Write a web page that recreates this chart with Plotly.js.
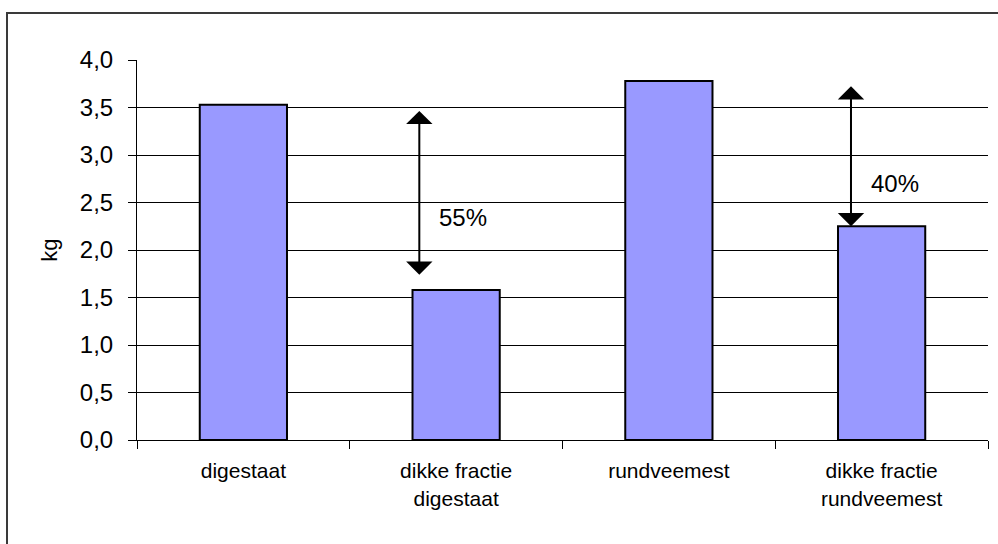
<!DOCTYPE html>
<html>
<head>
<meta charset="utf-8">
<script src="https://cdn.plot.ly/plotly-3.0.1.min.js"></script>
<style>html,body{margin:0;padding:0;background:#fff;}#chart{width:998px;height:544px;}</style>
</head>
<body>
<div id="chart"></div>
<script>
const categories = ["digestaat", "dikke fractie<br>digestaat", "rundveemest", "dikke fractie<br>rundveemest"];
const values = [3.53, 1.58, 3.78, 2.25];
const yTickVals = [0, 0.5, 1, 1.5, 2, 2.5, 3, 3.5, 4];
const reductionLabels = ["55%", "40%"];

const FONT = "Liberation Sans, Arial, sans-serif";

const trace = {
  type: "bar",
  x: categories,
  y: values,
  marker: {color: "#9999FF", line: {color: "#000000", width: 2}},
  width: 0.41,
  hoverinfo: "x+y"
};

const W = 851, H = 380, L = 137, T = 60;
function px(xp){ return (xp - L) / W; }
function py(yp){ return (T + H - yp) / H; }

const layout = {
  width: 998, height: 544,
  margin: {l: 137, r: 10, t: 60, b: 104},
  paper_bgcolor: "#ffffff",
  plot_bgcolor: "#ffffff",
  showlegend: false,
  font: {family: FONT, color: "#000000"},
  xaxis: {
    type: "category",
    showline: true, linecolor: "#000000", linewidth: 1,
    ticks: "outside", tickson: "boundaries", ticklen: 8, tickcolor: "#000000", tickwidth: 1,
    ticklabelstandoff: 12,
    tickfont: {family: FONT, size: 21, color: "#000000"},
    showgrid: false, zeroline: false,
    range: [-0.5, 3.5], fixedrange: true
  },
  yaxis: {
    range: [0, 4],
    tickvals: yTickVals,
    tickformat: ".1f",
    showline: true, linecolor: "#000000", linewidth: 1,
    ticks: "outside", ticklen: 8, tickcolor: "#000000", tickwidth: 1,
    ticklabelstandoff: 10,
    tickfont: {family: FONT, size: 24, color: "#000000"},
    showgrid: true, gridcolor: "#000000", gridwidth: 1,
    zeroline: false,
    title: {text: "kg", font: {family: FONT, size: 22, color: "#000000"}, standoff: 16},
    fixedrange: true
  },
  separators: ",.",
  bargap: 0.59,
  shapes: [
    {type: "rect", xref: "paper", yref: "paper",
     x0: px(7), x1: px(1010), y0: py(13), y1: py(600),
     line: {color: "#3a3a3a", width: 2}, fillcolor: "rgba(0,0,0,0)", layer: "below"}
  ],
  annotations: [
    {x: 0.827, y: 1.74, ax: 0.827, ay: 3.48, xref: "x", yref: "y", axref: "x", ayref: "y",
     text: "", showarrow: true, arrowhead: 1, arrowside: "end+start", arrowsize: 2.2, arrowwidth: 2,
     arrowcolor: "#000000", standoff: 0, startstandoff: 0},
    {x: 2.856, y: 2.25, ax: 2.856, ay: 3.74, xref: "x", yref: "y", axref: "x", ayref: "y",
     text: "", showarrow: true, arrowhead: 1, arrowside: "end+start", arrowsize: 2.2, arrowwidth: 2,
     arrowcolor: "#000000", standoff: 0, startstandoff: 0},
    {x: 1.032, y: 2.337, xref: "x", yref: "y", text: reductionLabels[0], showarrow: false,
     font: {family: FONT, size: 24, color: "#000000"}},
    {x: 3.065, y: 2.705, xref: "x", yref: "y", text: reductionLabels[1], showarrow: false,
     font: {family: FONT, size: 24, color: "#000000"}}
  ]
};

Plotly.newPlot("chart", [trace], layout, {displayModeBar: false, staticPlot: true});
</script>
</body>
</html>
